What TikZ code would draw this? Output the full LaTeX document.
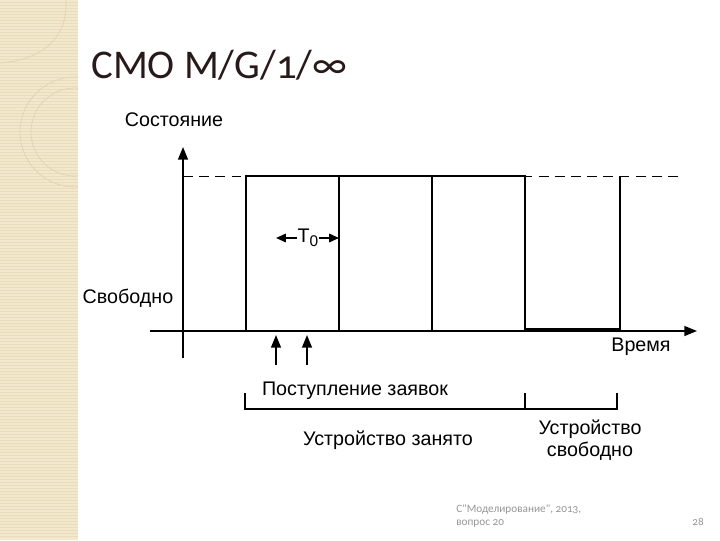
\documentclass[tikz,border=0pt]{standalone}
\usepackage{fontspec}
\setmainfont{Liberation Sans}
\newfontfamily\slidefont[Numbers=OldStyle]{Carlito}
\usetikzlibrary{arrows.meta}

\definecolor{stripbg}{RGB}{242,233,205}
\definecolor{stripline}{RGB}{232,220,186}
\definecolor{footgray}{RGB}{150,150,150}
\definecolor{titleink}{RGB}{40,26,26}

\tikzset{
    axis/.style={line width=1.3pt, -{Triangle[length=9pt,width=7pt]}},
    pulse/.style={line width=2.1pt},
    edge/.style={line width=1.4pt},
    lbl/.style={font=\fontsize{14}{16}\selectfont, inner sep=1pt},
    brace/.style={line width=1.4pt}
}

\begin{document}
\begin{tikzpicture}[x=0.025cm, y=-0.025cm]
        \useasboundingbox (0,0) rectangle (720,540);

        % left strip of the slide
        \fill[stripbg] (0,0) rectangle (78,540);
        \foreach \y in {2,5,...,538}
            \draw[stripline, line width=0.3pt] (0,\y)--(78,\y);
        \begin{scope}
            \clip (0,0) rectangle (78,540);
            \draw[stripline!70!brown!70, line width=0.6pt] (75,132) circle (55);
            \draw[stripline!70!brown!70, line width=0.6pt] (75,132) circle (44);
            \draw[stripline!70!brown!70, line width=0.6pt] (66,0) .. controls (68,40) and (40,60) .. (0,63);
        \end{scope}

        % title
        \node[anchor=base west, inner sep=0pt, text=titleink] (title) at (91,78)
            {\slidefont\fontsize{29}{32}\selectfont СМО M/G/1/∞};

        % axes
        \coordinate (O) at (183,331);
        \draw[axis] (183,358)--(183,147) coordinate (ytop);
        \draw[axis] (150,331)--(697,331) coordinate (xend);
        \draw[dashed, dash pattern=on 7pt off 4.5pt, line width=0.7pt] (183,176)--(683,176);

        % busy period
        \draw[pulse] (246,331)--(246,176)--(525,176)--(525,331);
        \draw[edge] (246,331)--(246,176);
        \draw[edge] (339,331)--(339,176);
        \draw[edge] (432,331)--(432,176);
        \draw[pulse, line width=2.6pt] (525,330)--(620,330);
        \draw[edge] (620,331)--(620,176);

        % service time
        \node[lbl, fill=white, inner sep=0.5pt] (T0) at (308,238)
            {T\raisebox{-3pt}{\fontsize{11}{11}\selectfont 0}};
        \draw[line width=1.3pt, -{Triangle[length=7pt,width=6pt]}] (T0.west)--(276,238);
        \draw[line width=1.3pt, -{Triangle[length=7pt,width=6pt]}] (T0.east)--(339,238);

        % arrivals
        \draw[axis] (276,365)--(276,335);
        \draw[axis] (307,365)--(307,335);

        % labels
        \node[lbl] (state) at (174,120) {Состояние};
        \node[lbl] (free) at (128,298) {Свободно};
        \node[lbl] (time) at (641,347) {Время};
        \node[lbl] (arr) at (355,391) {Поступление заявок};

        % intervals
        \draw[brace] (245,393)--(245,409)--(525,409);
        \draw[brace] (525,393)--(525,409)--(617,409)--(617,393);
        \node[lbl] (busy) at (388,440) {Устройство занято};
        \node[lbl, align=center] (idle) at (590,440) {Устройство\\свободно};

        % footer
        \node[anchor=base west, text=footgray, align=left, inner sep=0pt, font=\slidefont\fontsize{8}{8.6}\selectfont] (foot) at (456,525)
            {C"Моделирование", 2013,\\вопрос 20};
        \node[anchor=base east, text=footgray, inner sep=0pt, font=\slidefont\fontsize{8}{10}\selectfont] (page) at (704,525) {28};
    \end{tikzpicture}
\end{document}
